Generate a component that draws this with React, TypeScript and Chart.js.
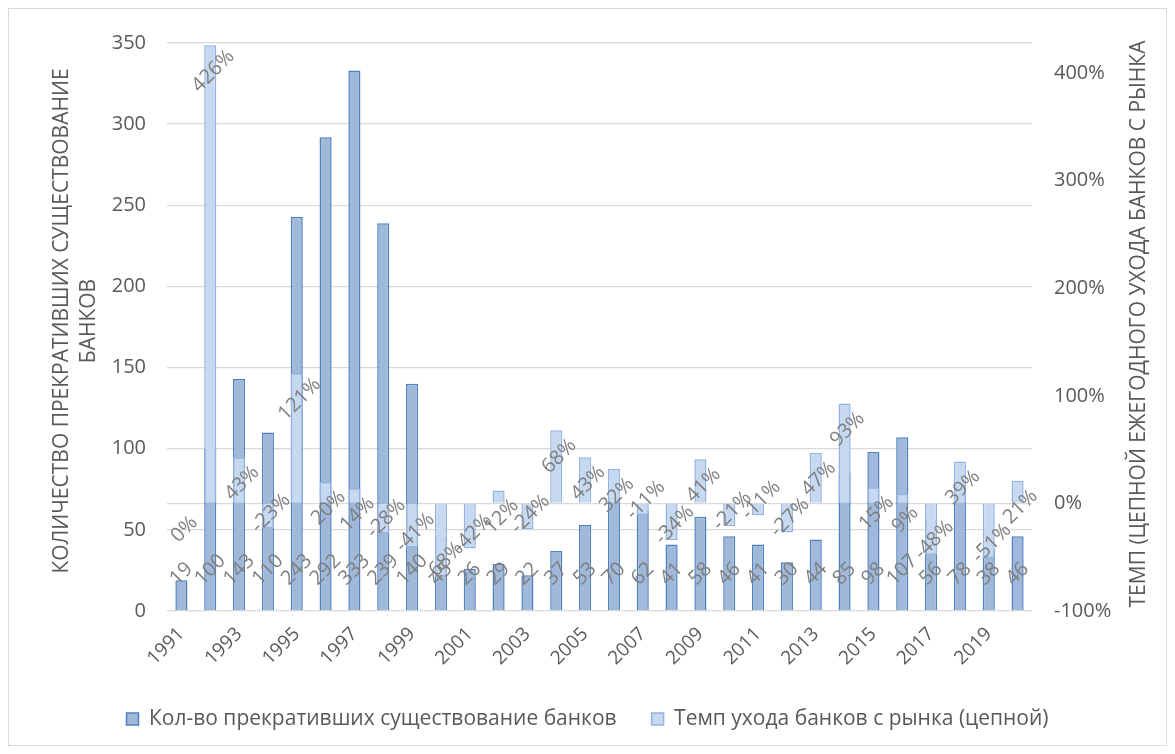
import React, { useEffect, useRef } from 'react';
import { Chart, registerables } from 'chart.js';

Chart.register(...registerables);

const years = ['1991', '1992', '1993', '1994', '1995', '1996', '1997', '1998', '1999', '2000', '2001', '2002', '2003', '2004', '2005', '2006', '2007', '2008', '2009', '2010', '2011', '2012', '2013', '2014', '2015', '2016', '2017', '2018', '2019', '2020'];
const closedBanks = [19, 100, 143, 110, 243, 292, 333, 239, 140, 45, 26, 29, 22, 37, 53, 70, 62, 41, 58, 46, 41, 30, 44, 85, 98, 107, 56, 78, 38, 46];
const chainRate = [0, 426, 43, -23, 121, 20, 14, -28, -41, -68, -42, 12, -24, 68, 43, 32, -11, -34, 41, -21, -11, -27, 47, 93, 15, 9, -48, 39, -51, 21];
const leftTicks = [0, 50, 100, 150, 200, 250, 300, 350];
const rightTicks = [-100, 0, 100, 200, 300, 400];
const seriesNames = ['Кол-во прекративших существование банков', 'Темп ухода банков с рынка (цепной)'];
const leftTitle = ['КОЛИЧЕСТВО ПРЕКРАТИВШИХ СУЩЕСТВОВАНИЕ', 'БАНКОВ'];
const rightTitle = 'ТЕМП (ЦЕПНОЙ ЕЖЕГОДНОГО УХОДА БАНКОВ С РЫНКА';

const FONT = "'Open Sans', 'Noto Sans', sans-serif";
const TEXT = '#595959';
const LABEL = '#7f7f7f';
const GRID = '#d9d9d9';

const decorPlugin = {
  id: 'decor',
  afterDatasetsDraw(chart: any) {
    const ctx = chart.ctx;
    const drawRot = (text: string, x: number, y: number) => {
      ctx.save();
      ctx.translate(x, y);
      ctx.rotate(-Math.PI / 4);
      ctx.fillText(text, 0, 0);
      ctx.restore();
    };
    ctx.save();
    ctx.font = `20px ${FONT}`;
    ctx.fillStyle = LABEL;
    ctx.textAlign = 'center';
    ctx.textBaseline = 'middle';
    const m0 = chart.getDatasetMeta(0);
    m0.data.forEach((bar: any, i: number) => {
      const t = String(closedBanks[i]);
      const w = ctx.measureText(t).width;
      drawRot(t, bar.x, bar.base - 22 - (w + 18) * 0.354);
    });
    const m1 = chart.getDatasetMeta(1);
    m1.data.forEach((bar: any, i: number) => {
      const v = chainRate[i];
      const t = v + '%';
      const cy = v >= 0 ? bar.y + 26 : bar.y - 15;
      drawRot(t, bar.x + 3, cy);
    });
    ctx.restore();
  },
  afterDraw(chart: any) {
    const ctx = chart.ctx;
    const a = chart.chartArea;
    const midY = (a.top + a.bottom) / 2;
    ctx.save();
    ctx.fillStyle = TEXT;
    ctx.textAlign = 'center';
    ctx.textBaseline = 'middle';
    ctx.font = `21px ${FONT}`;
    leftTitle.forEach((line, k) => {
      ctx.save();
      ctx.translate(a.left - 105 + k * 27, midY - 6);
      ctx.rotate(-Math.PI / 2);
      ctx.fillText(line, 0, 0);
      ctx.restore();
    });
    ctx.save();
    ctx.translate(a.right + 107, midY - 3);
    ctx.rotate(-Math.PI / 2);
    ctx.fillText(rightTitle, 0, 0);
    ctx.restore();
    ctx.restore();
  },
};

export default function App() {
  const ref = useRef<HTMLCanvasElement | null>(null);

  useEffect(() => {
    if (!ref.current) return;
    const chart = new Chart(ref.current, {
      type: 'bar',
      data: {
        labels: years,
        datasets: [
          {
            label: seriesNames[0],
            data: closedBanks,
            yAxisID: 'y',
            backgroundColor: '#a0b8da',
            borderColor: '#4f81bd',
            borderWidth: 1.5,
            grouped: false,
            order: 2,
            categoryPercentage: 1,
            barPercentage: 0.42,
          } as any,
          {
            label: seriesNames[1],
            data: chainRate,
            yAxisID: 'y1',
            backgroundColor: '#c6d9f1',
            borderColor: '#95b3e0',
            borderWidth: 1.5,
            grouped: false,
            order: 1,
            categoryPercentage: 1,
            barPercentage: 0.42,
          } as any,
        ],
      },
      options: {
        animation: false,
        responsive: true,
        maintainAspectRatio: false,
        layout: { padding: { top: 30.5, bottom: 5.5, left: 0, right: 0 } },
        plugins: {
          tooltip: { enabled: false },
          legend: {
            position: 'bottom',
            labels: {
              boxWidth: 12,
              boxHeight: 12,
              padding: 35,
              color: TEXT,
              font: { family: FONT, size: 21 },
              sort: (a: any, b: any) => a.datasetIndex - b.datasetIndex,
            },
          },
        },
        scales: {
          x: {
            grid: { display: false },
            border: { display: false },
            ticks: {
              autoSkip: false,
              maxRotation: 45,
              minRotation: 45,
              color: TEXT,
              padding: 4,
              font: { family: FONT, size: 19 },
              callback: (_v: any, i: number) => (i % 2 === 0 ? years[i] : ''),
            },
            afterFit: (s: any) => {
              s.height = 62.5;
            },
          },
          y: {
            position: 'left',
            min: leftTicks[0],
            max: leftTicks[leftTicks.length - 1],
            afterBuildTicks: (s: any) => {
              s.ticks = leftTicks.map((v) => ({ value: v }));
            },
            grid: { color: GRID, drawTicks: false, lineWidth: 1.3 },
            border: { display: false },
            ticks: { color: TEXT, padding: 21, font: { family: FONT, size: 20 } },
            afterFit: (s: any) => {
              s.width = 158;
            },
          },
          y1: {
            position: 'right',
            min: -100,
            max: 428,
            afterBuildTicks: (s: any) => {
              s.ticks = rightTicks.map((v) => ({ value: v }));
            },
            grid: {
              drawTicks: false,
              lineWidth: 1.3,
              color: (c: any) => (c.tick && c.tick.value === 0 ? GRID : 'rgba(0,0,0,0)'),
            },
            border: { display: false },
            ticks: {
              color: TEXT,
              padding: 22,
              font: { family: FONT, size: 20 },
              callback: (v: any) => v + '%',
            },
            afterFit: (s: any) => {
              s.width = 134;
            },
          },
        },
      },
      plugins: [decorPlugin],
    });
    return () => chart.destroy();
  }, []);

  return (
    <div
      style={{
        width: 1159,
        height: 738,
        border: '1px solid #d9d9d9',
        boxSizing: 'border-box',
        background: '#fff',
      }}
    >
      <div style={{ position: 'relative', width: 1157, height: 736 }}>
        <canvas ref={ref} />
      </div>
    </div>
  );
}
